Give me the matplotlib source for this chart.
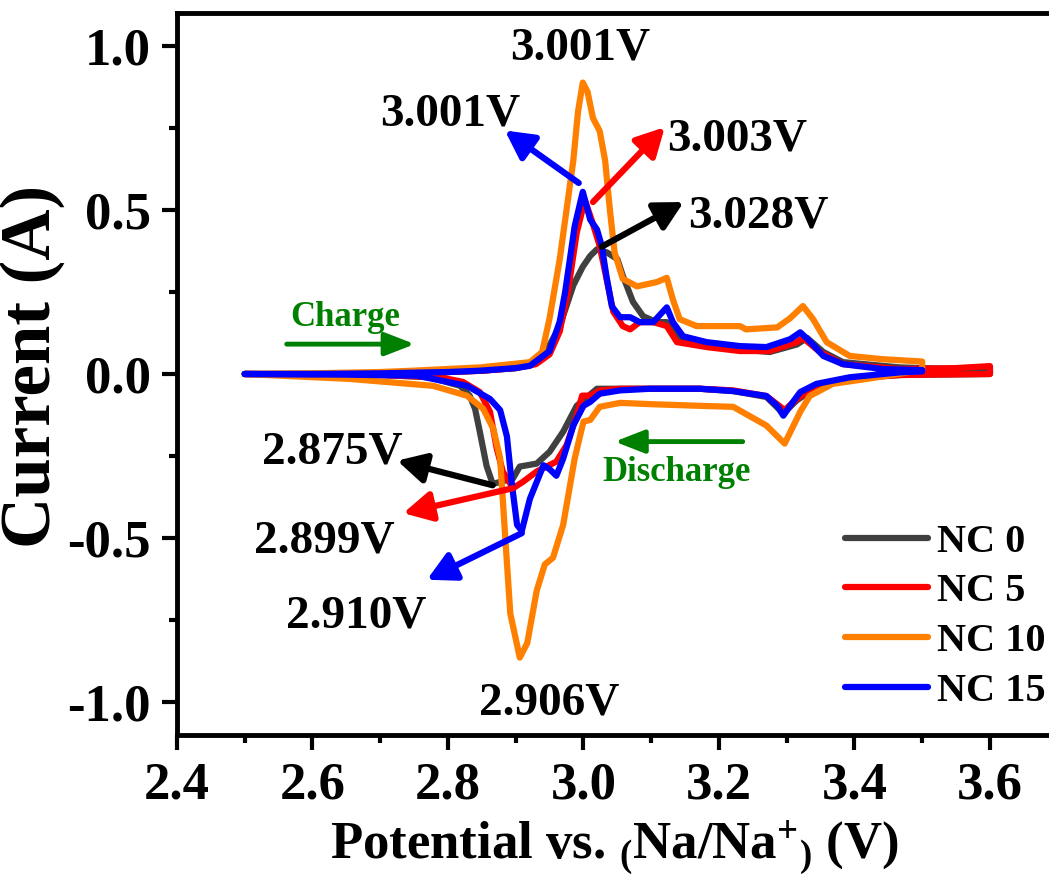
import numpy as np
import matplotlib
matplotlib.use("Agg")
import matplotlib.pyplot as plt

# ── Fonts ────────────────────────────────────────────────────────────────────
plt.rcParams["font.family"] = ["Liberation Serif", "DejaVu Serif"]
plt.rcParams["font.weight"] = "bold"
plt.rcParams["axes.labelweight"] = "bold"
plt.rcParams["mathtext.fontset"] = "custom"
plt.rcParams["mathtext.rm"] = "Liberation Serif:bold"
plt.rcParams["mathtext.bf"] = "Liberation Serif:bold"
plt.rcParams["mathtext.default"] = "rm"

# ── Data ─────────────────────────────────────────────────────────────────────
# NC 0
nc0_chg_v = [2.50, 2.70, 2.80, 2.85, 2.90, 2.94, 2.965, 2.985, 2.999, 3.01, 3.02,
             3.035, 3.05, 3.058, 3.073, 3.088, 3.108, 3.123, 3.138, 3.157, 3.231,
             3.275, 3.315, 3.33, 3.354, 3.383, 3.467, 3.60]
nc0_chg_i = [0.0, 0.002, 0.006, 0.01, 0.018, 0.05, 0.146, 0.27, 0.327, 0.36, 0.38,
             0.37, 0.35, 0.30, 0.22, 0.176, 0.158, 0.158, 0.115, 0.097, 0.075,
             0.067, 0.09, 0.11, 0.067, 0.036, 0.02, 0.012]
nc0_dis_v = [3.60, 3.467, 3.393, 3.344, 3.315, 3.295, 3.27, 3.221, 3.172, 3.10,
             3.054, 3.02, 2.99, 2.97, 2.95, 2.931, 2.906, 2.896, 2.875, 2.866,
             2.857, 2.847, 2.84, 2.832, 2.818, 2.773, 2.70, 2.50]
nc0_dis_i = [0.0, -0.003, -0.012, -0.04, -0.08, -0.12, -0.07, -0.052, -0.045, -0.045,
             -0.045, -0.045, -0.097, -0.176, -0.237, -0.273, -0.282, -0.318, -0.33,
             -0.335, -0.28, -0.176, -0.106, -0.066, -0.036, -0.01, -0.003, 0.0]

# NC 5
nc5_chg_v = [2.50, 2.60, 2.70, 2.80, 2.85, 2.90, 2.93, 2.95, 2.965, 2.977, 2.99,
             3.002, 3.012, 3.024, 3.034, 3.044, 3.058, 3.069, 3.083, 3.103, 3.123,
             3.138, 3.182, 3.231, 3.275, 3.315, 3.324, 3.349, 3.383, 3.467, 3.55, 3.60]
nc5_chg_i = [0.0, 0.0, 0.002, 0.006, 0.01, 0.018, 0.03, 0.06, 0.13, 0.25, 0.43,
             0.53, 0.47, 0.39, 0.29, 0.19, 0.146, 0.136, 0.158, 0.158, 0.146,
             0.097, 0.082, 0.07, 0.07, 0.097, 0.11, 0.067, 0.03, 0.015, 0.018, 0.024]
nc5_dis_v = [3.60, 3.467, 3.393, 3.344, 3.315, 3.297, 3.27, 3.221, 3.172, 3.10,
             3.054, 3.024, 3.01, 2.998, 2.99, 2.975, 2.96, 2.931, 2.911, 2.896,
             2.881, 2.872, 2.862, 2.847, 2.822, 2.788, 2.70, 2.50]
nc5_dis_i = [0.0, -0.003, -0.015, -0.036, -0.076, -0.11, -0.067, -0.05, -0.045, -0.045,
             -0.045, -0.05, -0.066, -0.066, -0.127, -0.217, -0.267, -0.297, -0.328,
             -0.348, -0.297, -0.227, -0.115, -0.055, -0.024, -0.01, -0.003, 0.0]

# NC 10
nc10_chg_v = [2.50, 2.60, 2.70, 2.748, 2.847, 2.921, 2.939, 2.95, 2.965, 2.985,
              2.992, 2.999, 3.006, 3.014, 3.024, 3.032, 3.039, 3.046, 3.058, 3.079,
              3.108, 3.123, 3.132, 3.142, 3.167, 3.231, 3.240, 3.286, 3.305, 3.324,
              3.339, 3.359, 3.393, 3.442, 3.50]
nc10_chg_i = [0.0, 0.002, 0.006, 0.01, 0.02, 0.036, 0.067, 0.17, 0.35, 0.65,
              0.80, 0.888, 0.86, 0.78, 0.74, 0.65, 0.50, 0.37, 0.29, 0.267,
              0.28, 0.293, 0.227, 0.167, 0.146, 0.146, 0.136, 0.142, 0.17, 0.207,
              0.167, 0.097, 0.055, 0.045, 0.038]
nc10_dis_v = [3.50, 3.418, 3.368, 3.334, 3.32, 3.297, 3.27, 3.221, 3.172, 3.10,
              3.054, 3.024, 3.01, 3.0, 2.987, 2.97, 2.955, 2.943, 2.931, 2.917,
              2.906, 2.892, 2.884, 2.877, 2.867, 2.852, 2.828, 2.778, 2.655, 2.50]
nc10_dis_i = [0.012, -0.015, -0.03, -0.067, -0.115, -0.212, -0.157, -0.1, -0.097, -0.092,
              -0.088, -0.1, -0.14, -0.145, -0.258, -0.46, -0.56, -0.58, -0.66, -0.82,
              -0.864, -0.73, -0.48, -0.257, -0.167, -0.106, -0.066, -0.036, -0.015, 0.0]

# NC 15
nc15_chg_v = [2.50, 2.60, 2.70, 2.80, 2.847, 2.90, 2.921, 2.95, 2.965, 2.973, 2.987,
              2.999, 3.01, 3.02, 3.027, 3.034, 3.042, 3.054, 3.069, 3.083, 3.103,
              3.123, 3.132, 3.147, 3.182, 3.231, 3.27, 3.305, 3.32, 3.334, 3.354,
              3.383, 3.442, 3.50]
nc15_chg_i = [0.0, 0.0, 0.002, 0.006, 0.01, 0.018, 0.025, 0.07, 0.16, 0.25, 0.45,
              0.555, 0.47, 0.44, 0.39, 0.297, 0.206, 0.173, 0.173, 0.158, 0.158,
              0.203, 0.158, 0.115, 0.097, 0.085, 0.082, 0.106, 0.127, 0.1, 0.055,
              0.03, 0.015, 0.012]
nc15_dis_v = [3.50, 3.467, 3.393, 3.344, 3.32, 3.305, 3.295, 3.286, 3.27, 3.221,
              3.172, 3.098, 3.054, 3.024, 3.01, 3.0, 2.985, 2.97, 2.96, 2.95,
              2.941, 2.921, 2.909, 2.902, 2.894, 2.887, 2.877, 2.862, 2.828, 2.754,
              2.65, 2.50]
nc15_dis_i = [0.008, 0.005, -0.01, -0.03, -0.055, -0.097, -0.127, -0.097, -0.067, -0.052,
              -0.045, -0.045, -0.05, -0.06, -0.085, -0.097, -0.157, -0.258, -0.31, -0.29,
              -0.278, -0.38, -0.478, -0.46, -0.33, -0.19, -0.11, -0.076, -0.036, -0.005,
              -0.002, 0.0]

labels = ["NC 0", "NC 5", "NC 10", "NC 15"]
colors = ["#404040", "#ff0000", "#ff8000", "#0000ff"]
loops = [
    (nc0_chg_v + nc0_dis_v, nc0_chg_i + nc0_dis_i),
    (nc5_chg_v + nc5_dis_v, nc5_chg_i + nc5_dis_i),
    (nc10_chg_v + nc10_dis_v, nc10_chg_i + nc10_dis_i),
    (nc15_chg_v + nc15_dis_v, nc15_chg_i + nc15_dis_i),
]

# peak labels: (text, text x, text baseline y, arrow color, arrow tail (on peak), arrow head)
peak_labels = [
    ("3.001V", 2.995, 0.958, None, None, None),
    ("3.001V", 2.804, 0.758, "#0000ff", (2.993, 0.582), (2.884, 0.742)),
    ("3.003V", 3.227, 0.682, "#ff0000", (3.014, 0.524), (3.120, 0.752)),
    ("3.028V", 3.258, 0.445, "black", (3.027, 0.388), (3.148, 0.524)),
    ("2.875V", 2.630, -0.273, "black", (2.866, -0.339), (2.725, -0.264)),
    ("2.899V", 2.618, -0.545, "#ff0000", (2.896, -0.348), (2.734, -0.424)),
    ("2.910V", 2.664, -0.773, "#0000ff", (2.909, -0.485), (2.769, -0.627)),
    ("2.906V", 2.949, -1.036, None, None, None),
]
direction_labels = [
    ("Charge", 2.649, 0.145, (2.562, 0.091), (2.751, 0.091)),
    ("Discharge", 3.137, -0.327, (3.235, -0.206), (3.046, -0.206)),
]

# ── Figure ───────────────────────────────────────────────────────────────────
fig = plt.figure(figsize=(10.49, 8.77), dpi=100)
ax = fig.add_axes([0.1687, 0.1619, 0.8396, 0.8233])

for (v, i), lab, col in zip(loops, labels, colors):
    ax.plot(v, i, color=col, lw=4.5, label=lab,
            solid_capstyle="round", solid_joinstyle="round")

for txt, tx, ty, col, tail, head in peak_labels:
    ax.text(tx, ty, txt, ha="center", va="baseline", fontsize=34,
            fontweight="bold", color="black")
    if tail is not None:
        ax.annotate("", xy=head, xytext=tail,
                    arrowprops=dict(arrowstyle="-|>,head_length=0.85,head_width=0.45",
                                    color=col, lw=4.5, mutation_scale=20,
                                    shrinkA=0, shrinkB=0))

for txt, tx, ty, tail, head in direction_labels:
    ax.text(tx, ty, txt, ha="center", va="baseline", fontsize=25,
            fontweight="bold", color="#008000")
    ax.annotate("", xy=head, xytext=tail,
                arrowprops=dict(arrowstyle="-|>,head_length=0.9,head_width=0.35",
                                color="#008000", lw=3.5, mutation_scale=20,
                                shrinkA=0, shrinkB=0))

ax.set_xlim(2.4, 3.7)
ax.set_ylim(-1.1, 1.1)
ax.set_xticks(np.arange(2.4, 3.61, 0.2))
ax.set_xticks(np.arange(2.5, 3.71, 0.2), minor=True)
ax.set_yticks([-1.0, -0.5, 0.0, 0.5, 1.0])
ax.set_yticks([-0.75, -0.25, 0.25, 0.75], minor=True)
ax.xaxis.set_major_formatter(plt.FuncFormatter(lambda x, p: f"{x:.1f}"))
ax.yaxis.set_major_formatter(plt.FuncFormatter(lambda y, p: f"{y:.1f}"))

ax.tick_params(which="both", direction="out", top=False, right=False, width=3)
ax.tick_params(which="major", length=11, labelsize=38, pad=8)
ax.tick_params(which="minor", length=6)
for lbl in ax.get_xticklabels() + ax.get_yticklabels():
    lbl.set_fontweight("bold")
for sp in ax.spines.values():
    sp.set_linewidth(3.5)
ax.spines["right"].set_visible(False)

ax.set_xlabel(r"Potential vs. $_{(}$Na/Na$^{+}$$_{)}$ (V)", fontsize=38)
ax.set_ylabel("Current (A)", fontsize=51)
ax.xaxis.set_label_coords(0.497, -0.115)
ax.yaxis.set_label_coords(-0.127, 0.51)

ax.legend(frameon=False, loc="upper left", bbox_to_anchor=(0.8055, 0.403),
          bbox_transform=fig.transFigure, handlelength=2.06, handletextpad=0.23,
          labelspacing=0.31, borderpad=0, borderaxespad=0,
          prop={"size": 29, "weight": "bold"})

fig.savefig("out.png", dpi=100, facecolor="white")
